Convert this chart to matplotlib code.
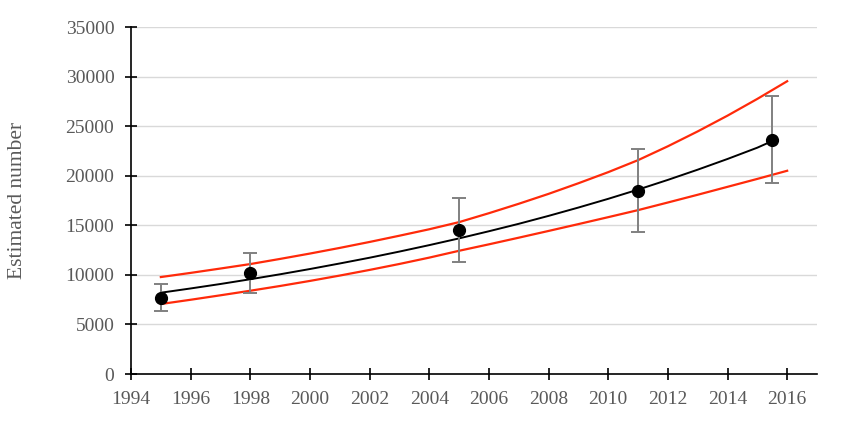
import matplotlib
matplotlib.use("Agg")
import matplotlib.pyplot as plt

# Data
trend_years = [1995, 1996, 1997, 1998, 1999, 2000, 2001, 2002, 2003, 2004, 2005,
               2006, 2007, 2008, 2009, 2010, 2011, 2012, 2013, 2014, 2015, 2015.5]
trend_vals = [8200, 8630, 9080, 9560, 10060, 10590, 11150, 11730, 12350, 13000, 13680,
              14400, 15150, 15950, 16790, 17670, 18600, 19580, 20610, 21690, 22830, 23500]

band_years = [1995, 1996, 1997, 1998, 1999, 2000, 2001, 2002, 2003, 2004, 2005,
              2006, 2007, 2008, 2009, 2010, 2011, 2012, 2013, 2014, 2015, 2016]
upper_vals = [9780, 10200, 10640, 11090, 11610, 12150, 12720, 13320, 13950, 14600, 15320,
              16220, 17170, 18170, 19240, 20360, 21570, 22970, 24470, 26060, 27750, 29530]
lower_vals = [7060, 7490, 7940, 8400, 8880, 9390, 9930, 10500, 11100, 11740, 12430,
              13080, 13750, 14430, 15120, 15820, 16530, 17300, 18080, 18880, 19680, 20500]

obs_years = [1995, 1998, 2005, 2011, 2015.5]
obs_vals = [7700, 10200, 14500, 18450, 23600]
obs_low = [6350, 8200, 11320, 14280, 19280]
obs_high = [9070, 12250, 17770, 22680, 28020]

x_ticks = list(range(1994, 2017, 2))
y_ticks = list(range(0, 35001, 5000))

plt.rcParams['font.family'] = ['Liberation Serif', 'DejaVu Serif']
text_color = '#595959'

fig = plt.figure(figsize=(8.66, 4.24), dpi=100)
ax = fig.add_axes([0.1513, 0.1179, 0.7921, 0.8184])

for y in y_ticks[1:]:
    ax.axhline(y, color='#d9d9d9', lw=1.0, zorder=0)

ax.plot(band_years, upper_vals, color='#ff2a0a', lw=1.6, zorder=2)
ax.plot(band_years, lower_vals, color='#ff2a0a', lw=1.6, zorder=2)
ax.plot(trend_years, trend_vals, color='black', lw=1.4, zorder=3)

yerr = [[v - l for v, l in zip(obs_vals, obs_low)], [h - v for v, h in zip(obs_vals, obs_high)]]
ax.errorbar(obs_years, obs_vals, yerr=yerr, fmt='none', ecolor='#808080', elinewidth=1.4,
            capsize=5, capthick=1.4, zorder=4)
ax.plot(obs_years, obs_vals, 'o', color='black', markersize=8.5, zorder=5)

ax.set_xlim(1994, 2017)
ax.set_ylim(0, 35000)
ax.set_xticks(x_ticks)
ax.set_yticks(y_ticks)
ax.set_xticklabels([str(t) for t in x_ticks])
ax.set_yticklabels([str(t) for t in y_ticks])

for side in ['top', 'right']:
    ax.spines[side].set_visible(False)
for side in ['left', 'bottom']:
    ax.spines[side].set_linewidth(1.2)
    ax.spines[side].set_color('black')

ax.tick_params(axis='x', direction='inout', length=8, width=1.2, colors='black',
               labelcolor=text_color, labelsize=14, pad=8)
ax.tick_params(axis='y', direction='inout', length=8, width=1.2, colors='black',
               labelcolor=text_color, labelsize=14, pad=8)
ax.set_ylabel('Estimated number', color=text_color, fontsize=15.5)
ax.yaxis.set_label_coords(-0.152, 0.501)

fig.savefig('out.png', dpi=100)
